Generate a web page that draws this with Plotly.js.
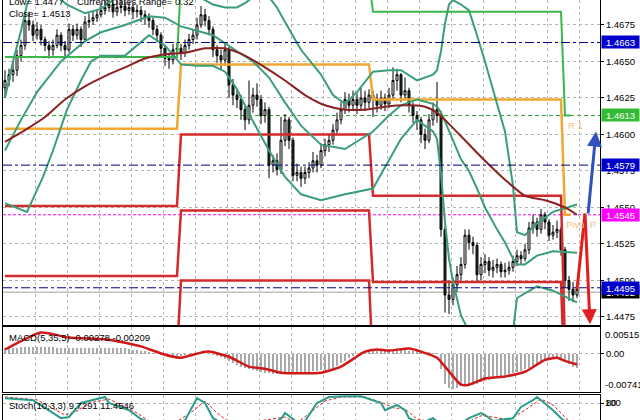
<!DOCTYPE html>
<html><head><meta charset="utf-8">
<script src="https://cdn.plot.ly/plotly-3.0.1.min.js"></script>
<style>html,body{margin:0;padding:0;background:#fff;}#chart{width:640px;height:420px;}</style>
</head><body><div id="chart"></div>
<script>
// ---------------- price data (30-min bars) ----------------
const firstOpen = 1.4632;
const closeP = [1.4637,1.4641,1.4644,1.4654,1.4661,1.4678,1.4675,1.4668,1.4672,1.4665,
1.4661,1.4658,1.4661,1.4668,1.4661,1.4658,1.4672,1.4668,1.4672,1.4665,
1.4677,1.4678,1.4680,1.4682,1.4685,1.4687,1.4689,1.4684,1.4687,1.4688,
1.4685,1.4687,1.4684,1.4685,1.4682,1.4680,1.4678,1.4672,1.4668,1.4659,
1.4652,1.4651,1.4658,1.4659,1.4656,1.4661,1.4665,1.4668,1.4675,1.4682,
1.4678,1.4672,1.4658,1.4654,1.4651,1.4658,1.4634,1.4627,1.4624,1.4617,
1.4610,1.4620,1.4627,1.4624,1.4613,1.4617,1.4579,1.4582,1.4576,1.4596,
1.4610,1.4596,1.4572,1.4574,1.4570,1.4574,1.4577,1.4582,1.4579,1.4589,
1.4593,1.4596,1.4603,1.4610,1.4617,1.4624,1.4620,1.4624,1.4620,1.4625,
1.4622,1.4627,1.4624,1.4620,1.4625,1.4621,1.4627,1.4637,1.4641,1.4627,
1.4630,1.4620,1.4613,1.4610,1.4600,1.4596,1.4610,1.4617,1.4613,1.4535,
1.4490,1.4487,1.4497,1.4504,1.4511,1.4531,1.4526,1.4524,1.4504,1.4511,
1.4513,1.4507,1.4509,1.4511,1.4506,1.4507,1.4509,1.4513,1.4517,1.4515,
1.4521,1.4536,1.4540,1.4535,1.4545,1.4540,1.4531,1.4533,1.4535,1.4521,
1.4500,1.4494,1.4490,1.4494];
const highP = [1.4644,1.4645,1.4650,1.4658,1.4665,1.4683,1.4684,1.4678,1.4677,1.4675,
1.4667,1.4664,1.4665,1.4672,1.4670,1.4664,1.4676,1.4675,1.4676,1.4674,
1.4681,1.4683,1.4685,1.4686,1.4690,1.4692,1.4694,1.4691,1.4692,1.4693,
1.4691,1.4691,1.4690,1.4689,1.4688,1.4685,1.4683,1.4680,1.4675,1.4670,
1.4661,1.4656,1.4662,1.4663,1.4662,1.4665,1.4669,1.4672,1.4680,1.4688,
1.4686,1.4681,1.4674,1.4661,1.4658,1.4662,1.4660,1.4638,1.4631,1.4627,
1.4620,1.4637,1.4632,1.4635,1.4627,1.4622,1.4619,1.4586,1.4587,1.4612,
1.4614,1.4612,1.4598,1.4580,1.4578,1.4578,1.4581,1.4588,1.4586,1.4594,
1.4597,1.4600,1.4607,1.4615,1.4622,1.4629,1.4628,1.4630,1.4628,1.4632,
1.4630,1.4631,1.4630,1.4628,1.4630,1.4628,1.4632,1.4646,1.4645,1.4642,
1.4639,1.4632,1.4622,1.4616,1.4612,1.4604,1.4614,1.4622,1.4636,1.4616,
1.4537,1.4500,1.4502,1.4510,1.4516,1.4535,1.4535,1.4530,1.4526,1.4516,
1.4518,1.4516,1.4514,1.4515,1.4513,1.4512,1.4513,1.4517,1.4521,1.4520,
1.4525,1.4540,1.4545,1.4543,1.4549,1.4547,1.4542,1.4538,1.4541,1.4537,
1.4523,1.4503,1.4499,1.4498];
const lowP = [1.4625,1.4633,1.4636,1.4640,1.4650,1.4658,1.4671,1.4664,1.4665,1.4661,
1.4657,1.4652,1.4654,1.4659,1.4657,1.4652,1.4656,1.4664,1.4665,1.4660,
1.4663,1.4673,1.4675,1.4677,1.4680,1.4682,1.4684,1.4680,1.4681,1.4683,
1.4681,1.4682,1.4679,1.4680,1.4677,1.4675,1.4673,1.4668,1.4663,1.4654,
1.4647,1.4645,1.4648,1.4653,1.4651,1.4653,1.4658,1.4662,1.4665,1.4673,
1.4674,1.4668,1.4653,1.4649,1.4644,1.4647,1.4625,1.4620,1.4618,1.4610,
1.4603,1.4607,1.4615,1.4619,1.4607,1.4608,1.4570,1.4574,1.4572,1.4573,
1.4592,1.4590,1.4568,1.4568,1.4564,1.4566,1.4570,1.4574,1.4574,1.4577,
1.4585,1.4588,1.4593,1.4600,1.4607,1.4614,1.4615,1.4617,1.4614,1.4617,
1.4616,1.4618,1.4612,1.4615,1.4617,1.4616,1.4618,1.4624,1.4630,1.4622,
1.4624,1.4615,1.4608,1.4603,1.4594,1.4590,1.4594,1.4606,1.4608,1.4530,
1.4478,1.4477,1.4483,1.4492,1.4500,1.4508,1.4521,1.4518,1.4499,1.4500,
1.4505,1.4503,1.4502,1.4505,1.4502,1.4502,1.4504,1.4506,1.4510,1.4511,
1.4513,1.4518,1.4532,1.4530,1.4532,1.4535,1.4527,1.4528,1.4529,1.4517,
1.4495,1.4486,1.4485,1.4488];

// ---------------- moving average (maroon) ----------------
const maBar = [0,5,10,15,20,25,30,35,40,45,50,55,60,65,70,75,80,85,90,95,100,105,108,110,115,120,125,130,135,140,143];
const maVal = [1.4595,1.4603,1.4612,1.4624,1.4633,1.4640,1.4646,1.4652,1.4655,1.4656,1.4659,1.4659,1.4654,1.4646,1.4637,1.4627,1.4620,1.4617,1.4617,1.4619,1.4620,1.4619,1.4615,1.4610,1.4596,1.4582,1.4569,1.4558,1.4555,1.4550,1.4545];

// ---------------- Bollinger bands (teal) ----------------
const bbUBar = [0,2,4,5.5,7,9.5,12,15.5,20,24,27,30,36,40,44,48,52,55,58,60,62,64,66,68,70,74,79,82,85,88,92,96,99,103,107,108,109,110,111,112,114,116,118,120,123,125,127,128,130,133,137,143];
const bbUVal = [1.4625,1.4650,1.4671,1.4689,1.4698,1.4697,1.4696,1.4689,1.4683,1.4686,1.4692,1.4696,1.4694,1.4698,1.4701,1.4695,1.4689,1.4687,1.4687,1.4690,1.4694,1.4698,1.4694,1.4687,1.4677,1.4658,1.4641,1.4627,1.4621,1.4629,1.4643,1.4644,1.4644,1.4637,1.4641,1.4644,1.4657,1.4676,1.4689,1.4692,1.4689,1.4685,1.4668,1.4650,1.4621,1.4602,1.4565,1.4533,1.4531,1.4539,1.4547,1.4552];
const bbMBar = [0,4,8,14,20,24,30,36,40,44,48,52,58,62,66,70,74,79,85,92,96,99,103,107,108,109,110,111,112,114,116,118,120,123,125,127,128,130,133,137,143];
const bbMVal = [1.4589,1.4610,1.4629,1.4650,1.4664,1.4670,1.4675,1.4681,1.4680,1.4674,1.4671,1.4668,1.4657,1.4650,1.4639,1.4622,1.4606,1.4593,1.4590,1.4602,1.4613,1.4620,1.4624,1.4621,1.4619,1.4615,1.4609,1.4602,1.4596,1.4583,1.4575,1.4563,1.4550,1.4535,1.4526,1.4515,1.4511,1.4511,1.4517,1.4520,1.4519];
const bbLBar = [0,5.5,9.5,12,15.5,19,21.5,24,30,33,36,40,44,48,52,55,58,62,66,70,74,79,85,92,96,99,103,107,108,109,110,111,112,114,116,118,120,123,125,127,128,130,133,137,143];
const bbLVal = [1.4553,1.4547,1.4571,1.4589,1.4617,1.4637,1.4650,1.4654,1.4654,1.4661,1.4668,1.4661,1.4648,1.4647,1.4647,1.4643,1.4631,1.4609,1.4589,1.4571,1.4559,1.4555,1.4559,1.4563,1.4582,1.4597,1.4610,1.4602,1.4597,1.4573,1.4540,1.4515,1.4499,1.4476,1.4465,1.4457,1.4451,1.4448,1.4449,1.4465,1.4488,1.4491,1.4496,1.4493,1.4485];

// ---------------- daily pivot levels ----------------
const dayBar = [0,43,44,91,92,139,140,141.5];
const r1Lvl = [1.4653,1.4653,1.4705,1.4705,1.4684,1.4684,1.4613,1.4613];
const ppLvl = [1.4604,1.4604,1.4648,1.4648,1.4624,1.4624,1.4545,1.4545];
const s1Lvl = [1.4551,1.4551,1.4600,1.4600,1.4558,1.4558,1.4455,1.4455];
const s2Lvl = [1.4503,1.4503,1.4548,1.4548,1.4499,1.4499,1.4420,1.4420];
const s3Lvl = [1.4450,1.4450,1.4500,1.4500,1.4440,1.4440,1.4400,1.4400];

// ---------------- horizontal levels ----------------
const blueLevels = [1.4663, 1.4579, 1.4495];
const greenLevel = 1.4613;
const magentaLevel = 1.4545;
const bidLevel = 1.4492;
const priceTicks = [1.4475,1.4500,1.4525,1.4550,1.4575,1.4600,1.4625,1.4650,1.4675];

// ---------------- forecast arrows ----------------
const redPathBar = [143, 145];
const redPathVal = [1.4494, 1.4546];
const redHead = {bar: 146.25, val: 1.4470};
const blueTail = {bar: 145.75, val: 1.4545};
const blueHead = {bar: 147.75, val: 1.4602};

// ---------------- MACD(5,35,5) ----------------
const macdHist = [0.0010,0.0010,0.0011,0.0011,0.0012,0.0012,0.0012,0.0012,0.0012,0.0012,
0.0012,0.0012,0.0012,0.0011,0.0011,0.0011,0.0011,0.0011,0.0011,0.0011,
0.0011,0.0011,0.0011,0.0011,0.0011,0.0011,0.0011,0.0011,0.0011,0.0011,
0.0010,0.0009,0.0008,0.0007,0.0006,0.0005,0.0003,0.0001,-0.0001,-0.0003,
-0.0005,-0.0006,-0.0006,-0.0005,-0.0004,-0.0003,-0.0002,-0.0001,0.0000,0.0001,
0.0000,-0.0001,-0.0003,-0.0005,-0.0007,-0.0010,-0.0014,-0.0018,-0.0022,-0.0025,
-0.0028,-0.0030,-0.0032,-0.0034,-0.0036,-0.0037,-0.0038,-0.0039,-0.0040,-0.0040,
-0.0040,-0.0039,-0.0039,-0.0038,-0.0037,-0.0036,-0.0035,-0.0034,-0.0033,-0.0032,
-0.0031,-0.0030,-0.0028,-0.0024,-0.0019,-0.0014,-0.0009,-0.0004,0.0000,0.0003,
0.0004,0.0005,0.0006,0.0006,0.0007,0.0007,0.0008,0.0008,0.0008,0.0007,
0.0007,0.0006,0.0006,0.0005,0.0004,0.0003,0.0003,0.0002,0.0002,-0.0030,
-0.0058,-0.0066,-0.0068,-0.0066,-0.0063,-0.0062,-0.0062,-0.0060,-0.0058,-0.0055,
-0.0052,-0.0050,-0.0048,-0.0046,-0.0044,-0.0042,-0.0041,-0.0038,-0.0035,-0.0033,
-0.0030,-0.0027,-0.0024,-0.0021,-0.0018,-0.0013,-0.0010,-0.0008,-0.0006,-0.0010,
-0.0015,-0.0020,-0.0025,-0.00278];
const macdSigBar = [0,9,16,26,34,40,44,49,51,56,61,65,69,79,84,90,93,96,101,104,108,110,114,116,120,125,130,135,138,140,143];
const macdSigVal = [0.0008,0.0041,0.0031,0.0027,0.0014,-0.0002,-0.0008,0.0002,0.0004,-0.0006,-0.0025,-0.0029,-0.0037,-0.0037,-0.0025,0.0004,0.0008,0.0006,0.0010,0.0004,-0.0008,-0.0025,-0.0060,-0.0060,-0.0048,-0.0044,-0.0035,-0.0012,-0.0008,-0.0014,-0.00209];
const macdTicks = {max: 0.00515, min: -0.00741};

// ---------------- Stochastic(10,3,3) ----------------
const stMainBar = [0,7,14,16,19,25,26,31,34,39,45,48,50,52,56,64,69,70,72,74,78,81,85,89,94,95,98,100,101,104,107,111,116,119,120,122,127,129,132,133,134,137,139,141,143];
const stMainVal = [92,87,42,45,80,95,80,62,40,20,37,92,80,42,20,15,40,55,40,20,80,95,97,97,80,62,75,62,42,30,42,10,42,55,50,35,42,70,87,95,87,62,42,20,9.7291];
const stSigBar = [0,8,15,18,21,26,28,33,36,41,47,50,53,57,70,73,80,84,90,95,97,100,103,108,113,119,122,126,130,134,137,140,143];
const stSigVal = [95,88,50,60,80,90,80,55,35,20,60,85,55,25,45,30,85,95,95,78,68,65,40,32,20,48,45,38,62,90,75,45,11.4546];

// ================= build figure =================
const barX = closeP.map((_, i) => i + 0.5);
const openP = [firstOpen].concat(closeP.slice(0, -1));
const pos = arr => arr.map(b => b + 0.5);
const X_END = 149.25;

const teal = '#3a9e78';
const traces = [];
function line(xb, yv, color, width, axis, extra) {
  traces.push(Object.assign({type:'scatter', mode:'lines', x: pos(xb), y: yv,
    xaxis: axis[0], yaxis: axis[1], line:{color, width}, hoverinfo:'skip'}, extra||{}));
}
const A1 = ['x','y'], A2 = ['x2','y2'], A3 = ['x3','y3'];

// pivots
line(dayBar, s3Lvl, '#d42a2a', 2.5, A1);
line(dayBar, s2Lvl, '#d42a2a', 2.5, A1);
line(dayBar, s1Lvl, '#d42a2a', 2.5, A1);
line(dayBar, ppLvl, '#f0a830', 2.5, A1);
line(dayBar, r1Lvl, '#3cb84a', 2, A1);
// bands and MA
line(bbUBar, bbUVal, teal, 2, A1);
line(bbMBar, bbMVal, teal, 2, A1);
line(bbLBar, bbLVal, teal, 2, A1);
line(maBar, maVal, '#8b2222', 2, A1, {line:{color:'#8b2222',width:2,shape:'spline',smoothing:0.6}});

// candles
traces.push({type:'candlestick', x: barX, open: openP, high: highP, low: lowP, close: closeP,
  xaxis:'x', yaxis:'y', hoverinfo:'skip', whiskerwidth:0,
  increasing:{line:{color:'#000', width:1}, fillcolor:'#ffffff'},
  decreasing:{line:{color:'#000', width:1}, fillcolor:'#1e3f1e'}});

// forecast red leg
line(redPathBar, redPathVal, '#e02020', 3, A1);

// MACD
traces.push({type:'bar', x: barX, y: macdHist, xaxis:'x2', yaxis:'y2', width:0.45,
  marker:{color:'#a9a9a9', line:{width:0}}, hoverinfo:'skip'});
line(macdSigBar, macdSigVal, '#d01818', 2.5, A2, {line:{color:'#d01818',width:2.5,shape:'spline',smoothing:0.5}});

// Stoch
line(stSigBar, stSigVal, '#d02020', 1, A3, {line:{color:'#d02020',width:1,dash:'3px,2px'}});
line(stMainBar, stMainVal, '#2a9d8a', 2, A3);

// horizontal level shapes
const shapes = [];
blueLevels.forEach(v => shapes.push({type:'line', xref:'x', yref:'y', x0:0, x1:X_END, y0:v, y1:v,
  line:{color:'#000080', width:1, dash:'dashdot'}, layer:'above'}));
shapes.push({type:'line', xref:'x', yref:'y', x0:0, x1:X_END, y0:greenLevel, y1:greenLevel, line:{color:'#33aa33', width:1, dash:'4px,3px'}, layer:'below'});
shapes.push({type:'line', xref:'x', yref:'y', x0:0, x1:X_END, y0:magentaLevel, y1:magentaLevel, line:{color:'#ff00ff', width:1, dash:'3px,2px'}, layer:'below'});
shapes.push({type:'line', xref:'x', yref:'y', x0:0, x1:X_END, y0:bidLevel, y1:bidLevel, line:{color:'#a0a0a0', width:1}, layer:'below'});

const fontF = 'Liberation Sans, Arial, sans-serif';
const priceLbl = (v, bg, fg) => ({xref:'paper', x:1, xanchor:'left', xshift:1, yref:'y', y:v, yanchor:'middle',
  text: v.toFixed(4), showarrow:false, bgcolor:bg, font:{color:fg||'#fff', size:9.5, family:fontF}, width:37, height:12, borderpad:0});
const annotations = [
  priceLbl(bidLevel, '#000000'),
  priceLbl(1.4663, '#0000cc'), priceLbl(greenLevel, '#33bb33'), priceLbl(1.4579, '#0000cc'),
  priceLbl(magentaLevel, '#ff00ff'), priceLbl(1.4495, '#0000cc'),
  {xref:'paper', x:0, xshift:4, xanchor:'left', yref:'paper', y:1-2/420, yanchor:'middle', text:'Low= 1.4477', showarrow:false, font:{size:9.5,family:fontF,color:'#000'}},
  {xref:'paper', x:0, xshift:72, xanchor:'left', yref:'paper', y:1-2/420, yanchor:'middle', text:'Current Dates Range= 0.32', showarrow:false, font:{size:9.5,family:fontF,color:'#000'}},
  {xref:'paper', x:0, xshift:4, xanchor:'left', yref:'paper', y:1-14/420, yanchor:'middle', text:'Close= 1.4513', showarrow:false, font:{size:9.5,family:fontF,color:'#000'}},
  {xref:'x', x:140.7, xanchor:'left', yref:'y', y:1.4606, yanchor:'middle', text:'R 1', showarrow:false, font:{size:9.5,family:fontF,color:'#f2c080'}},
  {xref:'x', x:140.2, xanchor:'left', yref:'y', y:1.4538, yanchor:'middle', text:'Pivot P', showarrow:false, font:{size:9.5,family:fontF,color:'#f2c080'}},
  {xref:'x', axref:'x', yref:'y', ayref:'y', x: redHead.bar+0.5, y: redHead.val, ax: redPathBar[1]+0.5, ay: redPathVal[1],
    showarrow:true, arrowhead:2, arrowsize:1, arrowwidth:3, arrowcolor:'#e02020', text:''},
  {xref:'x', axref:'x', yref:'y', ayref:'y', x: blueHead.bar+0.5, y: blueHead.val, ax: blueTail.bar+0.5, ay: blueTail.val,
    showarrow:true, arrowhead:2, arrowsize:1, arrowwidth:3, arrowcolor:'#3050c0', text:''},
  {xref:'paper', x:0, xshift:4, xanchor:'left', yref:'paper', y:1-337/420, yanchor:'middle', text:'MACD(5,35,5) -0.00278 -0.00209', showarrow:false, font:{size:9.5,family:fontF,color:'#000'}},
  {xref:'paper', x:1, xanchor:'left', xshift:3, yref:'y2', y:macdTicks.max, yanchor:'top', text:'0.00515', showarrow:false, font:{size:9.5,family:fontF,color:'#000'}},
  {xref:'paper', x:1, xanchor:'left', xshift:3, yref:'y2', y:macdTicks.min, yanchor:'bottom', text:'-0.00741', showarrow:false, font:{size:9.5,family:fontF,color:'#000'}},
  {xref:'paper', x:0, xshift:4, xanchor:'left', yref:'paper', y:1-405/420, yanchor:'middle', text:'Stoch(10,3,3) 9.7291 11.4546', showarrow:false, font:{size:9.5,family:fontF,color:'#000'}},
  {xref:'paper', x:1, xanchor:'left', xshift:3, yref:'y3', y:100, yanchor:'top', text:'100', showarrow:false, font:{size:9.5,family:fontF,color:'#000'}}
];

const grid = {showgrid:true, gridcolor:'#b4b4b4', griddash:'3px,3px', gridwidth:1};
const xBase = Object.assign({range:[0, X_END], showticklabels:false, tickmode:'linear', tick0:0, dtick:8,
  zeroline:false, showline:true, linecolor:'#000', linewidth:1, ticks:'', rangeslider:{visible:false}, fixedrange:true}, grid);
const yBase = Object.assign({side:'right', zeroline:false, showline:true, mirror:true, linecolor:'#000', linewidth:1,
  ticks:'outside', ticklen:3, tickcolor:'#000', tickfont:{size:9.5, family:fontF, color:'#000'}, fixedrange:true}, grid);

const layout = {
  width:640, height:420, margin:{l:3, r:40, t:0, b:0},
  paper_bgcolor:'#fff', plot_bgcolor:'#fff', showlegend:false,
  font:{family:fontF, size:9.5, color:'#000'},
  xaxis: Object.assign({}, xBase, {anchor:'y', mirror:false}),
  xaxis2: Object.assign({}, xBase, {anchor:'y2', matches:'x', mirror:true}),
  xaxis3: Object.assign({}, xBase, {anchor:'y3', matches:'x', side:'top', mirror:false}),
  yaxis: Object.assign({}, yBase, {domain:[1-325/420, 1], range:[1.44695, 1.46921],
    tickvals: priceTicks, ticktext: priceTicks.map(v => v.toFixed(4))}),
  yaxis2: Object.assign({}, yBase, {domain:[1-392/420, 1-327/420], range:[macdTicks.min, macdTicks.max],
    tickvals:[0], ticktext:['0.00']}),
  yaxis3: Object.assign({}, yBase, {domain:[0, 1-395/420], range:[37.5, 100], tickvals:[80], ticktext:['80']}),
  shapes, annotations, bargap:0
};
Plotly.newPlot('chart', traces, layout, {staticPlot:true, displayModeBar:false});
</script></body></html>
